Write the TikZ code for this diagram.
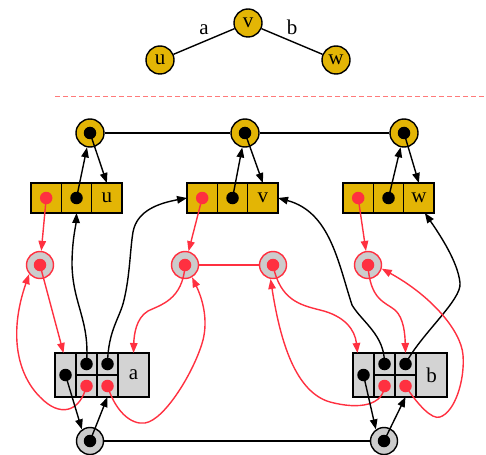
\documentclass[tikz,border=0pt]{standalone}
\usepackage{fontspec}
\setmainfont{Liberation Serif}
\usetikzlibrary{arrows.meta,positioning}

\definecolor{nodeyellow}{HTML}{E3B505}
\definecolor{linkred}{HTML}{FF3040}
\definecolor{ringgray}{HTML}{CCCCCC}
\definecolor{recgray}{HTML}{D3D3D3}
\definecolor{cutred}{HTML}{FF7A7A}

\begin{document}
\begin{tikzpicture}[x=1pt, y=-1pt, line width=1.4pt,
    every node/.style={font=\fontsize{21}{24}\selectfont},
    tip/.style={-{Triangle[length=10pt,width=7.5pt]}},
    vertex/.style={circle, draw, fill=nodeyellow, minimum size=28pt, inner sep=0pt},
    ring/.style={circle, draw=linkred, fill=ringgray, minimum size=27pt, inner sep=0pt},
    pivot/.style={circle, draw, fill=ringgray, minimum size=27pt, inner sep=0pt},
    pdot/.style={circle, fill=black, minimum size=12.5pt, inner sep=0pt},
    qdot/.style={circle, fill=linkred, minimum size=12.5pt, inner sep=0pt},
    ycell/.style={rectangle, draw, fill=nodeyellow, minimum width=30.33pt,
                  minimum height=30pt, inner sep=0pt, outer sep=0pt},
    gcell/.style={rectangle, draw, fill=recgray, minimum width=21pt,
                  minimum height=44pt, inner sep=0pt, outer sep=0pt},
    gcellh/.style={gcell, minimum height=22pt},
    glabel/.style={gcell, minimum width=31pt},
    edgelabel/.style={above=5pt, inner sep=1pt},
    redline/.style={draw=linkred}
  ]
    \useasboundingbox (0,0) rectangle (486,454);

    % the small graph
    \node[vertex] (tv) at (248,23) {v};
    \node[vertex] (tu) at (160,60) {u};
    \node[vertex] (tw) at (336,60) {w};
    \draw (tv) -- node[edgelabel] {a} (tu);
    \draw (tv) -- node[edgelabel] {b} (tw);

    \draw[cutred, line width=1pt, dash pattern=on 5pt off 3pt] (55,97) -- (486,97);

    % vertex list
    \node[vertex] (cu) at (90,133) {};
    \node[vertex] (cv) at (245,133) {};
    \node[vertex] (cw) at (404,133) {};
    \draw (cu) -- (cv) -- (cw);

    % vertex records
    \node[ycell] (ru1) at (46.2,198) {};
    \node[ycell, right=0pt of ru1] (ru2) {};
    \node[ycell, right=0pt of ru2] (ru3) {u};
    \node[ycell] (rv1) at (202.2,198) {};
    \node[ycell, right=0pt of rv1] (rv2) {};
    \node[ycell, right=0pt of rv2] (rv3) {v};
    \node[ycell] (rw1) at (358.2,198) {};
    \node[ycell, right=0pt of rw1] (rw2) {};
    \node[ycell, right=0pt of rw2] (rw3) {w};

    % incidence rings
    \node[ring] (rc1) at (40,265) {};
    \node[ring] (rc2) at (185,265) {};
    \node[ring] (rc3) at (273,265) {};
    \node[ring] (rc4) at (368,265) {};
    \draw[redline] (rc2) -- (rc3);

    % edge records
    \node[gcell] (ea0) at (65.5,375) {};
    \node[gcellh, anchor=north west] (ea1t) at (ea0.north east) {};
    \node[gcellh, below=0pt of ea1t] (ea1b) {};
    \node[gcellh, right=0pt of ea1t] (ea2t) {};
    \node[gcellh, below=0pt of ea2t] (ea2b) {};
    \node[glabel, anchor=north west] (ea3) at (ea2t.north east) {a};
    \node[gcell] (eb0) at (363.5,375) {};
    \node[gcellh, anchor=north west] (eb1t) at (eb0.north east) {};
    \node[gcellh, below=0pt of eb1t] (eb1b) {};
    \node[gcellh, right=0pt of eb1t] (eb2t) {};
    \node[gcellh, below=0pt of eb2t] (eb2b) {};
    \node[glabel, anchor=north west] (eb3) at (eb2t.north east) {b};

    % edge list
    \node[pivot] (ba) at (90,441) {};
    \node[pivot] (bb) at (384,441) {};
    \draw (ba) -- (bb);

    % pointer dots
    \node[pdot] (cdu) at (cu) {};
    \node[pdot] (cdv) at (cv) {};
    \node[pdot] (cdw) at (cw) {};
    \node[qdot] (qu) at (ru1) {};
    \node[pdot] (pu) at (ru2) {};
    \node[qdot] (qv) at (rv1) {};
    \node[pdot] (pv) at (rv2) {};
    \node[qdot] (qw) at (rw1) {};
    \node[pdot] (pw) at (rw2) {};
    \node[qdot] (rd1) at (rc1) {};
    \node[qdot] (rd2) at (rc2) {};
    \node[qdot] (rd3) at (rc3) {};
    \node[qdot] (rd4) at (rc4) {};
    \node[pdot] (pa0) at (ea0) {};
    \node[pdot] (pa1) at (ea1t) {};
    \node[pdot] (pa2) at (ea2t) {};
    \node[qdot] (qa1) at (ea1b) {};
    \node[qdot] (qa2) at (ea2b) {};
    \node[pdot] (pb0) at (eb0) {};
    \node[pdot] (pb1) at (eb1t) {};
    \node[pdot] (pb2) at (eb2t) {};
    \node[qdot] (qb1) at (eb1b) {};
    \node[qdot] (qb2) at (eb2b) {};
    \node[pdot] (bda) at (ba) {};
    \node[pdot] (bdb) at (bb) {};

    % vertex <-> record
    \draw[tip] (cdu.center) -- (ru3.north);
    \draw[tip] (pu.center) -- (cu);
    \draw[tip] (cdv.center) -- (rv3.north);
    \draw[tip] (pv.center) -- (cv);
    \draw[tip] (cdw.center) -- (rw3.north);
    \draw[tip] (pw.center) -- (cw);

    % record -> first ring
    \draw[tip, redline] (qu.center) -- (rc1);
    \draw[tip, redline] (qv.center) -- (rc2);
    \draw[tip, redline] (qw.center) -- (rc4);

    % edge endpoints back to vertices
    \draw[tip] (pa1.center) .. controls (90,320) and (73,305) .. (72,265)
               .. controls (72,240) and (76,225) .. (ru2.south);
    \draw[tip] (pa2.center) .. controls (108,330) and (120,318) .. (124,300)
               .. controls (130,275) and (130,250) .. (133,232)
               .. controls (137,210) and (160,203) .. (rv1.west);
    \draw[tip] (pb1.center) .. controls (385,335) and (362,322) .. (352,305)
               .. controls (338,262) and (330,212) .. (rv3.east);
    \draw[tip] (pb2.center) .. controls (420,335) and (462,300) .. (460,283)
               .. controls (458,262) and (440,235) .. ([xshift=6pt]rw3.south);

    % incidence rings
    \draw[tip, redline] (rd1.center) -- ([xshift=-2pt]ea0.north);
    \draw[tip, redline] (qa1.center) .. controls (80,412) and (60,418) .. (40,397)
               .. controls (18,375) and (8,335) .. (rc1.220);
    \draw[tip, redline] (rd2.center) .. controls (183,300) and (160,305) .. (148,311)
               .. controls (136,318) and (134,335) .. (ea3.north);
    \draw[tip, redline] (qa2.center) .. controls (115,410) and (130,425) .. (145,423)
               .. controls (165,420) and (195,370) .. (203,340)
               .. controls (208,320) and (203,300) .. (rc2.300);
    \draw[tip, redline] (rd3.center) .. controls (280,300) and (300,305) .. (320,310)
               .. controls (345,316) and (355,330) .. ([xshift=-6pt]eb0.north);
    \draw[tip, redline] (qb1.center) .. controls (383,405) and (360,410) .. (330,402)
               .. controls (295,392) and (280,340) .. (rc3.260);
    \draw[tip, redline] (rd4.center) .. controls (370,300) and (385,302) .. (395,310)
               .. controls (404,318) and (405,335) .. (eb2t.north);
    \draw[tip, redline] (qb2.center) .. controls (418,405) and (432,420) .. (440,417)
               .. controls (455,412) and (465,380) .. (463,355)
               .. controls (461,330) and (430,295) .. (rc4.345);

    % edge list <-> records
    \draw[tip] (pa0.center) -- (ba.125);
    \draw[tip] (bda.center) -- (ea2b.south);
    \draw[tip] (pb0.center) -- (bb.125);
    \draw[tip] (bdb.center) -- (eb2b.south);
\end{tikzpicture}
\end{document}
